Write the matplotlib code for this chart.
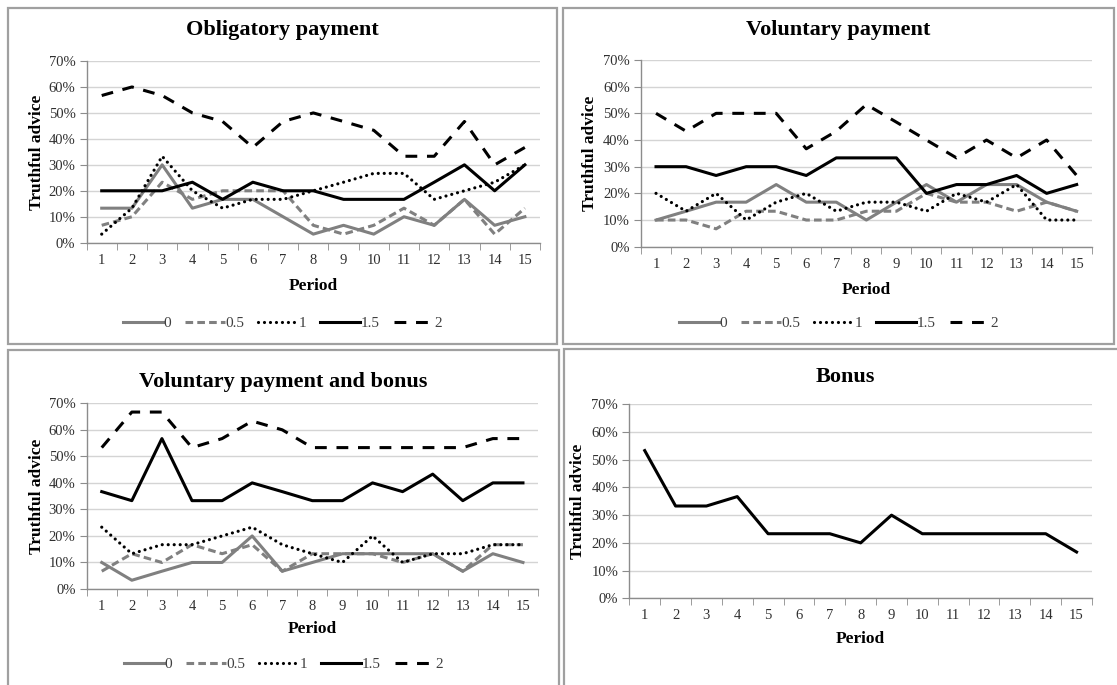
import matplotlib
matplotlib.use("Agg")
import matplotlib.pyplot as plt
from matplotlib.patches import Rectangle
from matplotlib.ticker import FuncFormatter, MultipleLocator

periods = list(range(1, 16))
series_names = ["0", "0.5", "1", "1.5", "2"]

# truthful advice share (%) per period
obligatory = {
    "0":   [13.3, 13.3, 30.0, 13.3, 16.7, 16.7, 10.0, 3.3, 6.7, 3.3, 10.0, 6.7, 16.7, 6.7, 10.0],
    "0.5": [6.7, 10.0, 23.3, 16.7, 20.0, 20.0, 20.0, 6.7, 3.3, 6.7, 13.3, 6.7, 16.7, 3.3, 13.3],
    "1":   [3.3, 13.3, 33.3, 20.0, 13.3, 16.7, 16.7, 20.0, 23.3, 26.7, 26.7, 16.7, 20.0, 23.3, 30.0],
    "1.5": [20.0, 20.0, 20.0, 23.3, 16.7, 23.3, 20.0, 20.0, 16.7, 16.7, 16.7, 23.3, 30.0, 20.0, 30.0],
    "2":   [56.7, 60.0, 56.7, 50.0, 46.7, 36.7, 46.7, 50.0, 46.7, 43.3, 33.3, 33.3, 46.7, 30.0, 36.7],
}
voluntary = {
    "0":   [10.0, 13.3, 16.7, 16.7, 23.3, 16.7, 16.7, 10.0, 16.7, 23.3, 16.7, 23.3, 23.3, 16.7, 13.3],
    "0.5": [10.0, 10.0, 6.7, 13.3, 13.3, 10.0, 10.0, 13.3, 13.3, 20.0, 16.7, 16.7, 13.3, 16.7, 13.3],
    "1":   [20.0, 13.3, 20.0, 10.0, 16.7, 20.0, 13.3, 16.7, 16.7, 13.3, 20.0, 16.7, 23.3, 10.0, 10.0],
    "1.5": [30.0, 30.0, 26.7, 30.0, 30.0, 26.7, 33.3, 33.3, 33.3, 20.0, 23.3, 23.3, 26.7, 20.0, 23.3],
    "2":   [50.0, 43.3, 50.0, 50.0, 50.0, 36.7, 43.3, 53.3, 46.7, 40.0, 33.3, 40.0, 33.3, 40.0, 26.7],
}
voluntary_bonus = {
    "0":   [10.0, 3.3, 6.7, 10.0, 10.0, 20.0, 6.7, 10.0, 13.3, 13.3, 13.3, 13.3, 6.7, 13.3, 10.0],
    "0.5": [6.7, 13.3, 10.0, 16.7, 13.3, 16.7, 6.7, 13.3, 13.3, 13.3, 10.0, 13.3, 6.7, 16.7, 16.7],
    "1":   [23.3, 13.3, 16.7, 16.7, 20.0, 23.3, 16.7, 13.3, 10.0, 20.0, 10.0, 13.3, 13.3, 16.7, 16.7],
    "1.5": [36.7, 33.3, 56.7, 33.3, 33.3, 40.0, 36.7, 33.3, 33.3, 40.0, 36.7, 43.3, 33.3, 40.0, 40.0],
    "2":   [53.3, 66.7, 66.7, 53.3, 56.7, 63.3, 60.0, 53.3, 53.3, 53.3, 53.3, 53.3, 53.3, 56.7, 56.7],
}
bonus = [53.3, 33.3, 33.3, 36.7, 23.3, 23.3, 23.3, 20.0, 30.0, 23.3, 23.3, 23.3, 23.3, 23.3, 16.7]

plt.rcParams["font.family"] = ["Liberation Serif", "DejaVu Serif"]
plt.rcParams["lines.scale_dashes"] = False

W, H = 1117, 685
fig = plt.figure(figsize=(W / 100, H / 100), dpi=100)

styles = {
    "0":   dict(color="#808080", lw=2.2, ls="-"),
    "0.5": dict(color="#808080", lw=2.2, dashes=(5.5, 3)),
    "1":   dict(color="black", lw=2.3, dashes=(0.01, 4.3), dash_capstyle="round"),
    "1.5": dict(color="black", lw=2.2, ls="-"),
    "2":   dict(color="black", lw=2.2, dashes=(8.5, 7)),
}


def px_axes(x0, x1, ytop, ybot):
    return fig.add_axes([x0 / W, 1 - ybot / H, (x1 - x0) / W, (ybot - ytop) / H])


def frame(x0, y0, x1, y1):
    fig.patches.append(Rectangle((x0 / W, 1 - y1 / H), (x1 - x0) / W, (y1 - y0) / H,
                                 transform=fig.transFigure, fill=False,
                                 edgecolor="#a0a0a0", lw=1.6))


def style_axes(ax, labelpad):
    ax.set_xlim(0.5, 15.5)
    ax.set_ylim(0, 70)
    ax.yaxis.set_major_locator(MultipleLocator(10))
    ax.yaxis.set_major_formatter(FuncFormatter(lambda v, p: f"{v:.0f}%"))
    ax.set_xticks(periods)
    ax.set_xticks([p + 0.5 for p in range(0, 16)], minor=True)
    ax.grid(axis="y", color="#d4d4d4", lw=1)
    ax.set_axisbelow(True)
    for s in ["top", "right"]:
        ax.spines[s].set_visible(False)
    for s in ["left", "bottom"]:
        ax.spines[s].set_color("#8c8c8c")
        ax.spines[s].set_linewidth(1)
    ax.tick_params(axis="x", which="major", length=0, pad=8, labelsize=10.5, colors="#303030")
    ax.tick_params(axis="x", which="minor", length=5, color="#8c8c8c")
    ax.tick_params(axis="y", length=5, color="#8c8c8c", labelsize=10.5, labelcolor="#303030", pad=3)
    ax.set_xlabel("Period", fontsize=12.5, fontweight="bold", labelpad=labelpad)


panels = [
    ("Obligatory payment", obligatory, (86.6, 540, 61, 242.7), (8, 8, 557, 344), 30, 37, 323, 8),
    ("Voluntary payment", voluntary, (641, 1091.7, 60, 246.7), (563, 8, 1114, 344), 30, 590, 323, 8),
    ("Voluntary payment and bonus", voluntary_bonus, (86.7, 538, 403.3, 589), (8, 350, 559, 690), 382, 37, 664, 6),
]

for title, data, box, fr, ty, lx, legy, lpad in panels:
    frame(*fr)
    ax = px_axes(*box)
    for name in series_names:
        ax.plot(periods, data[name], label=name, **styles[name])
    style_axes(ax, lpad)
    cx = (fr[0] + fr[2]) / 2
    fig.text(cx / W, 1 - ty / H, title, ha="center", va="center", fontsize=16, fontweight="bold")
    fig.text(lx / W, 1 - (box[2] + box[3]) / 2 / H, "Truthful advice", rotation=90,
             ha="center", va="center", fontsize=12.5, fontweight="bold")
    leg = fig.legend(*ax.get_legend_handles_labels(), loc="center", ncol=5,
                     bbox_to_anchor=(cx / W, 1 - legy / H), frameon=False,
                     handlelength=2.6, handletextpad=0.05, columnspacing=0.9, fontsize=11)
    for t in leg.get_texts():
        t.set_color("#404040")

# Bonus panel
frame(564, 349, 1120, 690)
ax4 = px_axes(629.3, 1092, 404.3, 598.3)
ax4.plot(periods, bonus, **styles["1.5"])
style_axes(ax4, 6)
fig.text(845 / W, 1 - 377 / H, "Bonus", ha="center", va="center", fontsize=16, fontweight="bold")
fig.text(578 / W, 1 - (404.3 + 598.3) / 2 / H, "Truthful advice", rotation=90,
         ha="center", va="center", fontsize=12.5, fontweight="bold")

fig.savefig("out.png", dpi=100)
